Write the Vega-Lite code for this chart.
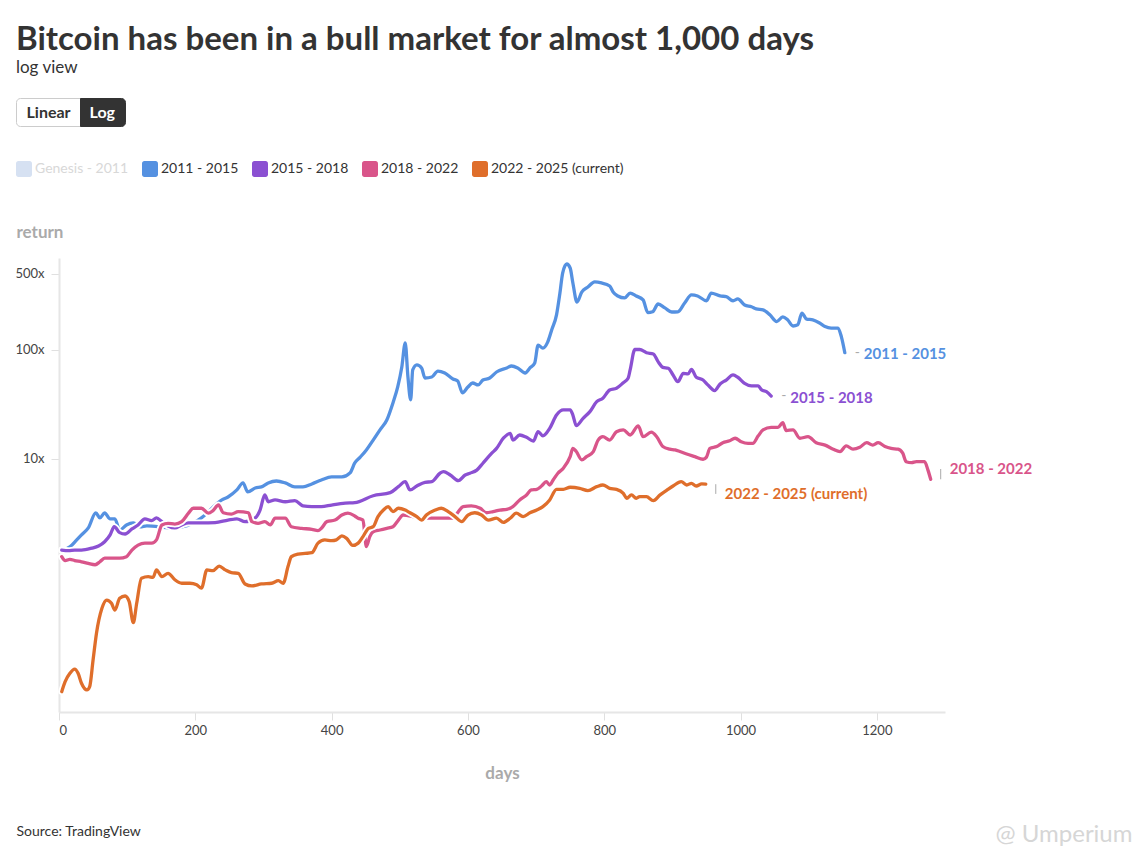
{
  "$schema": "https://vega.github.io/schema/vega-lite/v6.json",
  "autosize": {"type": "none"},
  "width": 886,
  "height": 454,
  "padding": {"left": 59, "top": 258, "right": 194, "bottom": 145},
  "background": "#ffffff",
  "config": {"font": "Lato", "view": {"stroke": null}},
  "title": {
    "text": "Bitcoin has been in a bull market for almost 1,000 days",
    "subtitle": "log view",
    "anchor": "start",
    "frame": "group",
    "dx": -43,
    "offset": 4,
    "font": "Lato",
    "fontSize": 33,
    "fontWeight": "bold",
    "color": "#333333",
    "subtitleFont": "Lato",
    "subtitleFontSize": 17,
    "subtitleColor": "#333333",
    "subtitlePadding": 3
  },
  "datasets": {
    "returns": [
      {"period":"2011 - 2015","day":4,"ret":1.44},{"period":"2011 - 2015","day":16,"ret":1.56},{"period":"2011 - 2015","day":26,"ret":1.81},{"period":"2011 - 2015","day":33,"ret":2.01},{"period":"2011 - 2015","day":43,"ret":2.33},{"period":"2011 - 2015","day":54,"ret":3.2},{"period":"2011 - 2015","day":60,"ret":2.88},{"period":"2011 - 2015","day":67,"ret":3.2},{"period":"2011 - 2015","day":75,"ret":2.82},{"period":"2011 - 2015","day":82,"ret":2.82},{"period":"2011 - 2015","day":89,"ret":2.23},{"period":"2011 - 2015","day":99,"ret":2.48},{"period":"2011 - 2015","day":109,"ret":2.59},{"period":"2011 - 2015","day":119,"ret":2.38},{"period":"2011 - 2015","day":129,"ret":2.43},{"period":"2011 - 2015","day":165,"ret":2.33},{"period":"2011 - 2015","day":180,"ret":2.38},{"period":"2011 - 2015","day":200,"ret":2.64},{"period":"2011 - 2015","day":209,"ret":2.88},{"period":"2011 - 2015","day":239,"ret":4.21},{"period":"2011 - 2015","day":248,"ret":4.48},{"period":"2011 - 2015","day":261,"ret":5.2},{"period":"2011 - 2015","day":270,"ret":6.03},{"period":"2011 - 2015","day":277,"ret":4.98},{"period":"2011 - 2015","day":288,"ret":5.42},{"period":"2011 - 2015","day":297,"ret":5.54},{"period":"2011 - 2015","day":307,"ret":6.03},{"period":"2011 - 2015","day":319,"ret":6.28},{"period":"2011 - 2015","day":332,"ret":6.03},{"period":"2011 - 2015","day":346,"ret":5.54},{"period":"2011 - 2015","day":358,"ret":5.54},{"period":"2011 - 2015","day":371,"ret":5.9},{"period":"2011 - 2015","day":385,"ret":6.41},{"period":"2011 - 2015","day":400,"ret":6.84},{"period":"2011 - 2015","day":415,"ret":6.84},{"period":"2011 - 2015","day":427,"ret":7.45},{"period":"2011 - 2015","day":434,"ret":9.19},{"period":"2011 - 2015","day":442,"ret":10.4},{"period":"2011 - 2015","day":451,"ret":12.1},{"period":"2011 - 2015","day":461,"ret":14.9},{"period":"2011 - 2015","day":471,"ret":18.5},{"period":"2011 - 2015","day":481,"ret":22.8},{"period":"2011 - 2015","day":490,"ret":32.7},{"period":"2011 - 2015","day":497,"ret":45.8},{"period":"2011 - 2015","day":503,"ret":69.8},{"period":"2011 - 2015","day":508,"ret":116},{"period":"2011 - 2015","day":512,"ret":56.5},{"period":"2011 - 2015","day":516,"ret":34.8},{"period":"2011 - 2015","day":519,"ret":65.6},{"period":"2011 - 2015","day":525,"ret":73},{"period":"2011 - 2015","day":532,"ret":68.4},{"period":"2011 - 2015","day":537,"ret":55.3},{"period":"2011 - 2015","day":547,"ret":56.5},{"period":"2011 - 2015","day":556,"ret":64.1},{"period":"2011 - 2015","day":566,"ret":61.5},{"period":"2011 - 2015","day":578,"ret":54.2},{"period":"2011 - 2015","day":585,"ret":52},{"period":"2011 - 2015","day":592,"ret":40.4},{"period":"2011 - 2015","day":600,"ret":45.8},{"period":"2011 - 2015","day":607,"ret":49.8},{"period":"2011 - 2015","day":615,"ret":47.8},{"period":"2011 - 2015","day":622,"ret":53},{"period":"2011 - 2015","day":632,"ret":55.3},{"period":"2011 - 2015","day":642,"ret":62.8},{"period":"2011 - 2015","day":657,"ret":68.4},{"period":"2011 - 2015","day":664,"ret":71.3},{"period":"2011 - 2015","day":673,"ret":68.4},{"period":"2011 - 2015","day":684,"ret":61.5},{"period":"2011 - 2015","day":691,"ret":68.4},{"period":"2011 - 2015","day":698,"ret":76},{"period":"2011 - 2015","day":703,"ret":111},{"period":"2011 - 2015","day":710,"ret":104},{"period":"2011 - 2015","day":717,"ret":118},{"period":"2011 - 2015","day":723,"ret":153},{"period":"2011 - 2015","day":730,"ret":210},{"period":"2011 - 2015","day":735,"ret":333},{"period":"2011 - 2015","day":739,"ret":508},{"period":"2011 - 2015","day":745,"ret":615},{"period":"2011 - 2015","day":750,"ret":565},{"period":"2011 - 2015","day":754,"ret":412},{"period":"2011 - 2015","day":760,"ret":275},{"period":"2011 - 2015","day":767,"ret":340},{"period":"2011 - 2015","day":776,"ret":378},{"period":"2011 - 2015","day":786,"ret":421},{"period":"2011 - 2015","day":796,"ret":412},{"period":"2011 - 2015","day":808,"ret":386},{"period":"2011 - 2015","day":813,"ret":340},{"period":"2011 - 2015","day":820,"ret":313},{"period":"2011 - 2015","day":830,"ret":300},{"period":"2011 - 2015","day":838,"ret":333},{"period":"2011 - 2015","day":847,"ret":313},{"period":"2011 - 2015","day":857,"ret":288},{"period":"2011 - 2015","day":864,"ret":220},{"period":"2011 - 2015","day":871,"ret":224},{"period":"2011 - 2015","day":879,"ret":264},{"period":"2011 - 2015","day":889,"ret":243},{"period":"2011 - 2015","day":899,"ret":223},{"period":"2011 - 2015","day":908,"ret":224},{"period":"2011 - 2015","day":918,"ret":270},{"period":"2011 - 2015","day":928,"ret":320},{"period":"2011 - 2015","day":937,"ret":313},{"period":"2011 - 2015","day":950,"ret":283},{"period":"2011 - 2015","day":957,"ret":333},{"period":"2011 - 2015","day":970,"ret":313},{"period":"2011 - 2015","day":979,"ret":309},{"period":"2011 - 2015","day":989,"ret":283},{"period":"2011 - 2015","day":996,"ret":294},{"period":"2011 - 2015","day":1006,"ret":259},{"period":"2011 - 2015","day":1016,"ret":249},{"period":"2011 - 2015","day":1023,"ret":238},{"period":"2011 - 2015","day":1033,"ret":233},{"period":"2011 - 2015","day":1043,"ret":210},{"period":"2011 - 2015","day":1053,"ret":182},{"period":"2011 - 2015","day":1062,"ret":201},{"period":"2011 - 2015","day":1069,"ret":189},{"period":"2011 - 2015","day":1077,"ret":166},{"period":"2011 - 2015","day":1084,"ret":170},{"period":"2011 - 2015","day":1090,"ret":218},{"period":"2011 - 2015","day":1097,"ret":192},{"period":"2011 - 2015","day":1106,"ret":189},{"period":"2011 - 2015","day":1116,"ret":177},{"period":"2011 - 2015","day":1124,"ret":164},{"period":"2011 - 2015","day":1133,"ret":159},{"period":"2011 - 2015","day":1143,"ret":159},{"period":"2011 - 2015","day":1148,"ret":132},{"period":"2011 - 2015","day":1153,"ret":94.4},
      {"period":"2015 - 2018","day":4,"ret":1.46},{"period":"2015 - 2018","day":14,"ret":1.44},{"period":"2015 - 2018","day":23,"ret":1.46},{"period":"2015 - 2018","day":33,"ret":1.46},{"period":"2015 - 2018","day":48,"ret":1.52},{"period":"2015 - 2018","day":58,"ret":1.59},{"period":"2015 - 2018","day":67,"ret":1.74},{"period":"2015 - 2018","day":75,"ret":2.01},{"period":"2015 - 2018","day":81,"ret":2.39},{"period":"2015 - 2018","day":89,"ret":2.11},{"period":"2015 - 2018","day":97,"ret":2.05},{"period":"2015 - 2018","day":107,"ret":2.28},{"period":"2015 - 2018","day":116,"ret":2.48},{"period":"2015 - 2018","day":126,"ret":2.82},{"period":"2015 - 2018","day":136,"ret":2.72},{"period":"2015 - 2018","day":143,"ret":2.88},{"period":"2015 - 2018","day":151,"ret":2.66},{"period":"2015 - 2018","day":160,"ret":2.43},{"period":"2015 - 2018","day":170,"ret":2.33},{"period":"2015 - 2018","day":180,"ret":2.48},{"period":"2015 - 2018","day":190,"ret":2.59},{"period":"2015 - 2018","day":209,"ret":2.59},{"period":"2015 - 2018","day":229,"ret":2.61},{"period":"2015 - 2018","day":248,"ret":2.75},{"period":"2015 - 2018","day":261,"ret":2.82},{"period":"2015 - 2018","day":273,"ret":2.66},{"period":"2015 - 2018","day":288,"ret":2.88},{"period":"2015 - 2018","day":295,"ret":3.4},{"period":"2015 - 2018","day":302,"ret":4.68},{"period":"2015 - 2018","day":307,"ret":4.05},{"period":"2015 - 2018","day":317,"ret":4.21},{"period":"2015 - 2018","day":332,"ret":4.05},{"period":"2015 - 2018","day":346,"ret":4.14},{"period":"2015 - 2018","day":358,"ret":3.71},{"period":"2015 - 2018","day":371,"ret":3.65},{"period":"2015 - 2018","day":385,"ret":3.65},{"period":"2015 - 2018","day":400,"ret":3.78},{"period":"2015 - 2018","day":420,"ret":3.93},{"period":"2015 - 2018","day":434,"ret":3.97},{"period":"2015 - 2018","day":461,"ret":4.6},{"period":"2015 - 2018","day":486,"ret":4.91},{"period":"2015 - 2018","day":498,"ret":5.57},{"period":"2015 - 2018","day":508,"ret":6.19},{"period":"2015 - 2018","day":515,"ret":5.2},{"period":"2015 - 2018","day":525,"ret":5.65},{"period":"2015 - 2018","day":537,"ret":6.11},{"period":"2015 - 2018","day":547,"ret":6.19},{"period":"2015 - 2018","day":559,"ret":7.4},{"period":"2015 - 2018","day":564,"ret":7.64},{"period":"2015 - 2018","day":574,"ret":7.13},{"period":"2015 - 2018","day":586,"ret":6.32},{"period":"2015 - 2018","day":596,"ret":7.13},{"period":"2015 - 2018","day":603,"ret":7.4},{"period":"2015 - 2018","day":613,"ret":7.9},{"period":"2015 - 2018","day":622,"ret":9.14},{"period":"2015 - 2018","day":635,"ret":11.3},{"period":"2015 - 2018","day":642,"ret":12.5},{"period":"2015 - 2018","day":652,"ret":15.5},{"period":"2015 - 2018","day":662,"ret":17.2},{"period":"2015 - 2018","day":666,"ret":14.9},{"period":"2015 - 2018","day":676,"ret":16.6},{"period":"2015 - 2018","day":686,"ret":15.8},{"period":"2015 - 2018","day":696,"ret":14.6},{"period":"2015 - 2018","day":703,"ret":17.8},{"period":"2015 - 2018","day":710,"ret":16.3},{"period":"2015 - 2018","day":720,"ret":19.1},{"period":"2015 - 2018","day":730,"ret":25.3},{"period":"2015 - 2018","day":740,"ret":28.2},{"period":"2015 - 2018","day":750,"ret":28.2},{"period":"2015 - 2018","day":754,"ret":25.3},{"period":"2015 - 2018","day":759,"ret":20.2},{"period":"2015 - 2018","day":769,"ret":23.6},{"period":"2015 - 2018","day":779,"ret":27.2},{"period":"2015 - 2018","day":789,"ret":33.6},{"period":"2015 - 2018","day":798,"ret":36.1},{"period":"2015 - 2018","day":808,"ret":43},{"period":"2015 - 2018","day":818,"ret":44.6},{"period":"2015 - 2018","day":828,"ret":50.1},{"period":"2015 - 2018","day":835,"ret":55},{"period":"2015 - 2018","day":838,"ret":65.6},{"period":"2015 - 2018","day":845,"ret":101},{"period":"2015 - 2018","day":852,"ret":101},{"period":"2015 - 2018","day":862,"ret":94.4},{"period":"2015 - 2018","day":872,"ret":91.9},{"period":"2015 - 2018","day":879,"ret":78.2},{"period":"2015 - 2018","day":886,"ret":69.3},{"period":"2015 - 2018","day":894,"ret":67.9},{"period":"2015 - 2018","day":901,"ret":59},{"period":"2015 - 2018","day":908,"ret":51.2},{"period":"2015 - 2018","day":916,"ret":61.1},{"period":"2015 - 2018","day":923,"ret":60.3},{"period":"2015 - 2018","day":928,"ret":66.5},{"period":"2015 - 2018","day":935,"ret":56.2},{"period":"2015 - 2018","day":945,"ret":53},{"period":"2015 - 2018","day":952,"ret":47.8},{"period":"2015 - 2018","day":962,"ret":42.4},{"period":"2015 - 2018","day":970,"ret":48.8},{"period":"2015 - 2018","day":979,"ret":53},{"period":"2015 - 2018","day":989,"ret":59},{"period":"2015 - 2018","day":996,"ret":56.2},{"period":"2015 - 2018","day":1006,"ret":49.4},{"period":"2015 - 2018","day":1016,"ret":46.8},{"period":"2015 - 2018","day":1026,"ret":46.8},{"period":"2015 - 2018","day":1031,"ret":43},{"period":"2015 - 2018","day":1038,"ret":41.4},{"period":"2015 - 2018","day":1045,"ret":37.8},
      {"period":"2018 - 2022","day":4,"ret":1.27},{"period":"2018 - 2022","day":9,"ret":1.17},{"period":"2018 - 2022","day":16,"ret":1.2},{"period":"2018 - 2022","day":23,"ret":1.17},{"period":"2018 - 2022","day":33,"ret":1.14},{"period":"2018 - 2022","day":43,"ret":1.1},{"period":"2018 - 2022","day":53,"ret":1.07},{"period":"2018 - 2022","day":60,"ret":1.14},{"period":"2018 - 2022","day":67,"ret":1.23},{"period":"2018 - 2022","day":77,"ret":1.23},{"period":"2018 - 2022","day":89,"ret":1.23},{"period":"2018 - 2022","day":99,"ret":1.27},{"period":"2018 - 2022","day":107,"ret":1.46},{"period":"2018 - 2022","day":116,"ret":1.62},{"period":"2018 - 2022","day":126,"ret":1.69},{"period":"2018 - 2022","day":136,"ret":1.69},{"period":"2018 - 2022","day":143,"ret":1.81},{"period":"2018 - 2022","day":151,"ret":2.48},{"period":"2018 - 2022","day":160,"ret":2.57},{"period":"2018 - 2022","day":170,"ret":2.53},{"period":"2018 - 2022","day":180,"ret":2.66},{"period":"2018 - 2022","day":190,"ret":3.18},{"period":"2018 - 2022","day":197,"ret":3.53},{"period":"2018 - 2022","day":209,"ret":3.53},{"period":"2018 - 2022","day":219,"ret":3.18},{"period":"2018 - 2022","day":226,"ret":3.36},{"period":"2018 - 2022","day":234,"ret":3.78},{"period":"2018 - 2022","day":241,"ret":3.21},{"period":"2018 - 2022","day":253,"ret":3.12},{"period":"2018 - 2022","day":263,"ret":3.29},{"period":"2018 - 2022","day":278,"ret":3.21},{"period":"2018 - 2022","day":283,"ret":2.66},{"period":"2018 - 2022","day":292,"ret":2.57},{"period":"2018 - 2022","day":302,"ret":2.66},{"period":"2018 - 2022","day":310,"ret":2.48},{"period":"2018 - 2022","day":317,"ret":2.86},{"period":"2018 - 2022","day":332,"ret":2.86},{"period":"2018 - 2022","day":341,"ret":2.39},{"period":"2018 - 2022","day":356,"ret":2.31},{"period":"2018 - 2022","day":371,"ret":2.26},{"period":"2018 - 2022","day":380,"ret":2.2},{"period":"2018 - 2022","day":385,"ret":2.31},{"period":"2018 - 2022","day":393,"ret":2.66},{"period":"2018 - 2022","day":405,"ret":2.75},{"period":"2018 - 2022","day":415,"ret":3.06},{"period":"2018 - 2022","day":424,"ret":3.18},{"period":"2018 - 2022","day":434,"ret":3.0},{"period":"2018 - 2022","day":439,"ret":2.86},{"period":"2018 - 2022","day":446,"ret":2.75},{"period":"2018 - 2022","day":451,"ret":1.57},{"period":"2018 - 2022","day":456,"ret":1.94},{"period":"2018 - 2022","day":461,"ret":2.15},{"period":"2018 - 2022","day":471,"ret":2.23},{"period":"2018 - 2022","day":481,"ret":2.31},{"period":"2018 - 2022","day":490,"ret":2.39},{"period":"2018 - 2022","day":498,"ret":2.75},{"period":"2018 - 2022","day":505,"ret":3.06},{"period":"2018 - 2022","day":522,"ret":2.95},{"period":"2018 - 2022","day":539,"ret":2.86},{"period":"2018 - 2022","day":559,"ret":2.86},{"period":"2018 - 2022","day":578,"ret":2.86},{"period":"2018 - 2022","day":586,"ret":3.29},{"period":"2018 - 2022","day":593,"ret":3.65},{"period":"2018 - 2022","day":605,"ret":3.71},{"period":"2018 - 2022","day":618,"ret":3.53},{"period":"2018 - 2022","day":627,"ret":3.21},{"period":"2018 - 2022","day":637,"ret":3.29},{"period":"2018 - 2022","day":647,"ret":3.4},{"period":"2018 - 2022","day":657,"ret":3.45},{"period":"2018 - 2022","day":666,"ret":3.65},{"period":"2018 - 2022","day":676,"ret":4.21},{"period":"2018 - 2022","day":686,"ret":4.68},{"period":"2018 - 2022","day":693,"ret":5.2},{"period":"2018 - 2022","day":701,"ret":5.27},{"period":"2018 - 2022","day":708,"ret":5.65},{"period":"2018 - 2022","day":715,"ret":6.19},{"period":"2018 - 2022","day":720,"ret":5.77},{"period":"2018 - 2022","day":725,"ret":6.41},{"period":"2018 - 2022","day":732,"ret":7.4},{"period":"2018 - 2022","day":740,"ret":8.22},{"period":"2018 - 2022","day":750,"ret":10.5},{"period":"2018 - 2022","day":754,"ret":12.5},{"period":"2018 - 2022","day":759,"ret":11.7},{"period":"2018 - 2022","day":767,"ret":9.8},{"period":"2018 - 2022","day":774,"ret":10.5},{"period":"2018 - 2022","day":784,"ret":11.7},{"period":"2018 - 2022","day":791,"ret":14.9},{"period":"2018 - 2022","day":798,"ret":16.0},{"period":"2018 - 2022","day":808,"ret":14.9},{"period":"2018 - 2022","day":818,"ret":17.8},{"period":"2018 - 2022","day":828,"ret":18.5},{"period":"2018 - 2022","day":838,"ret":16.6},{"period":"2018 - 2022","day":850,"ret":20.1},{"period":"2018 - 2022","day":857,"ret":16.0},{"period":"2018 - 2022","day":869,"ret":17.6},{"period":"2018 - 2022","day":877,"ret":16.0},{"period":"2018 - 2022","day":886,"ret":13.0},{"period":"2018 - 2022","day":896,"ret":12.3},{"period":"2018 - 2022","day":904,"ret":12.1},{"period":"2018 - 2022","day":911,"ret":11.7},{"period":"2018 - 2022","day":921,"ret":11.1},{"period":"2018 - 2022","day":933,"ret":10.5},{"period":"2018 - 2022","day":945,"ret":9.94},{"period":"2018 - 2022","day":950,"ret":10.4},{"period":"2018 - 2022","day":955,"ret":12.5},{"period":"2018 - 2022","day":965,"ret":13.0},{"period":"2018 - 2022","day":974,"ret":14.1},{"period":"2018 - 2022","day":984,"ret":14.7},{"period":"2018 - 2022","day":992,"ret":15.5},{"period":"2018 - 2022","day":1001,"ret":14.4},{"period":"2018 - 2022","day":1011,"ret":13.9},{"period":"2018 - 2022","day":1018,"ret":13.9},{"period":"2018 - 2022","day":1026,"ret":16.3},{"period":"2018 - 2022","day":1033,"ret":18.5},{"period":"2018 - 2022","day":1045,"ret":19.5},{"period":"2018 - 2022","day":1055,"ret":19.5},{"period":"2018 - 2022","day":1062,"ret":21.5},{"period":"2018 - 2022","day":1067,"ret":18.2},{"period":"2018 - 2022","day":1077,"ret":18.5},{"period":"2018 - 2022","day":1087,"ret":15.5},{"period":"2018 - 2022","day":1099,"ret":16.0},{"period":"2018 - 2022","day":1111,"ret":14.1},{"period":"2018 - 2022","day":1124,"ret":13.4},{"period":"2018 - 2022","day":1136,"ret":12.3},{"period":"2018 - 2022","day":1146,"ret":11.7},{"period":"2018 - 2022","day":1155,"ret":13.2},{"period":"2018 - 2022","day":1165,"ret":12.3},{"period":"2018 - 2022","day":1175,"ret":12.8},{"period":"2018 - 2022","day":1185,"ret":14.1},{"period":"2018 - 2022","day":1194,"ret":13.4},{"period":"2018 - 2022","day":1202,"ret":14.1},{"period":"2018 - 2022","day":1212,"ret":13.0},{"period":"2018 - 2022","day":1221,"ret":12.5},{"period":"2018 - 2022","day":1231,"ret":12.3},{"period":"2018 - 2022","day":1238,"ret":11.3},{"period":"2018 - 2022","day":1243,"ret":9.44},{"period":"2018 - 2022","day":1251,"ret":9.25},{"period":"2018 - 2022","day":1258,"ret":9.44},{"period":"2018 - 2022","day":1266,"ret":9.44},{"period":"2018 - 2022","day":1270,"ret":9.44},{"period":"2018 - 2022","day":1275,"ret":7.9},{"period":"2018 - 2022","day":1279,"ret":6.51},
      {"period":"2022 - 2025 (current)","day":4,"ret":0.0733},{"period":"2022 - 2025 (current)","day":9,"ret":0.0906},{"period":"2022 - 2025 (current)","day":16,"ret":0.108},{"period":"2022 - 2025 (current)","day":23,"ret":0.118},{"period":"2022 - 2025 (current)","day":28,"ret":0.108},{"period":"2022 - 2025 (current)","day":33,"ret":0.0875},{"period":"2022 - 2025 (current)","day":41,"ret":0.076},{"period":"2022 - 2025 (current)","day":45,"ret":0.0815},{"period":"2022 - 2025 (current)","day":50,"ret":0.143},{"period":"2022 - 2025 (current)","day":55,"ret":0.252},{"period":"2022 - 2025 (current)","day":63,"ret":0.427},{"period":"2022 - 2025 (current)","day":70,"ret":0.508},{"period":"2022 - 2025 (current)","day":77,"ret":0.474},{"period":"2022 - 2025 (current)","day":82,"ret":0.41},{"period":"2022 - 2025 (current)","day":89,"ret":0.527},{"period":"2022 - 2025 (current)","day":97,"ret":0.553},{"period":"2022 - 2025 (current)","day":103,"ret":0.491},{"period":"2022 - 2025 (current)","day":109,"ret":0.315},{"period":"2022 - 2025 (current)","day":114,"ret":0.474},{"period":"2022 - 2025 (current)","day":121,"ret":0.805},{"period":"2022 - 2025 (current)","day":131,"ret":0.832},{"period":"2022 - 2025 (current)","day":138,"ret":0.82},{"period":"2022 - 2025 (current)","day":143,"ret":0.96},{"period":"2022 - 2025 (current)","day":151,"ret":0.832},{"period":"2022 - 2025 (current)","day":160,"ret":0.893},{"period":"2022 - 2025 (current)","day":170,"ret":0.78},{"period":"2022 - 2025 (current)","day":180,"ret":0.724},{"period":"2022 - 2025 (current)","day":192,"ret":0.724},{"period":"2022 - 2025 (current)","day":202,"ret":0.7},{"period":"2022 - 2025 (current)","day":209,"ret":0.652},{"period":"2022 - 2025 (current)","day":217,"ret":0.96},{"period":"2022 - 2025 (current)","day":226,"ret":0.945},{"period":"2022 - 2025 (current)","day":235,"ret":1.04},{"period":"2022 - 2025 (current)","day":244,"ret":0.96},{"period":"2022 - 2025 (current)","day":253,"ret":0.905},{"period":"2022 - 2025 (current)","day":263,"ret":0.893},{"period":"2022 - 2025 (current)","day":273,"ret":0.713},{"period":"2022 - 2025 (current)","day":283,"ret":0.684},{"period":"2022 - 2025 (current)","day":297,"ret":0.713},{"period":"2022 - 2025 (current)","day":312,"ret":0.724},{"period":"2022 - 2025 (current)","day":322,"ret":0.764},{"period":"2022 - 2025 (current)","day":329,"ret":0.724},{"period":"2022 - 2025 (current)","day":336,"ret":1.03},{"period":"2022 - 2025 (current)","day":341,"ret":1.27},{"period":"2022 - 2025 (current)","day":351,"ret":1.34},{"period":"2022 - 2025 (current)","day":361,"ret":1.36},{"period":"2022 - 2025 (current)","day":371,"ret":1.38},{"period":"2022 - 2025 (current)","day":380,"ret":1.69},{"period":"2022 - 2025 (current)","day":390,"ret":1.81},{"period":"2022 - 2025 (current)","day":400,"ret":1.78},{"period":"2022 - 2025 (current)","day":407,"ret":1.81},{"period":"2022 - 2025 (current)","day":415,"ret":1.97},{"period":"2022 - 2025 (current)","day":422,"ret":1.87},{"period":"2022 - 2025 (current)","day":431,"ret":1.61},{"period":"2022 - 2025 (current)","day":439,"ret":1.69},{"period":"2022 - 2025 (current)","day":446,"ret":1.94},{"period":"2022 - 2025 (current)","day":454,"ret":2.31},{"period":"2022 - 2025 (current)","day":461,"ret":2.39},{"period":"2022 - 2025 (current)","day":468,"ret":2.96},{"period":"2022 - 2025 (current)","day":476,"ret":3.4},{"period":"2022 - 2025 (current)","day":483,"ret":3.65},{"period":"2022 - 2025 (current)","day":490,"ret":3.29},{"period":"2022 - 2025 (current)","day":498,"ret":3.53},{"period":"2022 - 2025 (current)","day":508,"ret":3.4},{"period":"2022 - 2025 (current)","day":515,"ret":3.21},{"period":"2022 - 2025 (current)","day":525,"ret":2.96},{"period":"2022 - 2025 (current)","day":532,"ret":2.75},{"period":"2022 - 2025 (current)","day":539,"ret":3.06},{"period":"2022 - 2025 (current)","day":552,"ret":3.4},{"period":"2022 - 2025 (current)","day":561,"ret":3.53},{"period":"2022 - 2025 (current)","day":571,"ret":3.29},{"period":"2022 - 2025 (current)","day":581,"ret":2.96},{"period":"2022 - 2025 (current)","day":591,"ret":2.66},{"period":"2022 - 2025 (current)","day":600,"ret":3.06},{"period":"2022 - 2025 (current)","day":610,"ret":3.21},{"period":"2022 - 2025 (current)","day":620,"ret":3.06},{"period":"2022 - 2025 (current)","day":630,"ret":2.75},{"period":"2022 - 2025 (current)","day":642,"ret":2.86},{"period":"2022 - 2025 (current)","day":652,"ret":2.62},{"period":"2022 - 2025 (current)","day":662,"ret":2.86},{"period":"2022 - 2025 (current)","day":671,"ret":3.18},{"period":"2022 - 2025 (current)","day":681,"ret":2.96},{"period":"2022 - 2025 (current)","day":691,"ret":3.21},{"period":"2022 - 2025 (current)","day":701,"ret":3.4},{"period":"2022 - 2025 (current)","day":710,"ret":3.65},{"period":"2022 - 2025 (current)","day":720,"ret":4.21},{"period":"2022 - 2025 (current)","day":730,"ret":5.27},{"period":"2022 - 2025 (current)","day":740,"ret":5.27},{"period":"2022 - 2025 (current)","day":750,"ret":5.5},{"period":"2022 - 2025 (current)","day":764,"ret":5.38},{"period":"2022 - 2025 (current)","day":776,"ret":5.12},{"period":"2022 - 2025 (current)","day":789,"ret":5.57},{"period":"2022 - 2025 (current)","day":798,"ret":5.77},{"period":"2022 - 2025 (current)","day":808,"ret":5.38},{"period":"2022 - 2025 (current)","day":818,"ret":5.27},{"period":"2022 - 2025 (current)","day":828,"ret":4.84},{"period":"2022 - 2025 (current)","day":833,"ret":4.36},{"period":"2022 - 2025 (current)","day":840,"ret":4.68},{"period":"2022 - 2025 (current)","day":847,"ret":4.36},{"period":"2022 - 2025 (current)","day":852,"ret":4.51},{"period":"2022 - 2025 (current)","day":862,"ret":4.51},{"period":"2022 - 2025 (current)","day":872,"ret":4.14},{"period":"2022 - 2025 (current)","day":882,"ret":4.68},{"period":"2022 - 2025 (current)","day":891,"ret":5.12},{"period":"2022 - 2025 (current)","day":901,"ret":5.65},{"period":"2022 - 2025 (current)","day":913,"ret":6.19},{"period":"2022 - 2025 (current)","day":921,"ret":5.77},{"period":"2022 - 2025 (current)","day":928,"ret":5.98},{"period":"2022 - 2025 (current)","day":935,"ret":5.65},{"period":"2022 - 2025 (current)","day":943,"ret":5.9},{"period":"2022 - 2025 (current)","day":949,"ret":5.87}
    ],
    "labels": [
      {"period":"2011 - 2015","day":1153,"end":94.4,"label_ret":91.9},
      {"period":"2015 - 2018","day":1045,"end":37.8,"label_ret":36.3},
      {"period":"2018 - 2022","day":1279,"end":6.51,"label_ret":8.09},
      {"period":"2022 - 2025 (current)","day":949,"end":5.87,"label_ret":4.78}
    ],
    "mode_linear": [{"mode":"Linear"}],
    "mode_log": [{"mode":"Log"}]
  },
  "layer": [
    {
      "data": {"name": "mode_linear"},
      "mark": {"type": "point", "opacity": 0, "filled": true},
      "encoding": {
        "shape": {
          "field": "mode", "type": "nominal",
          "scale": {"domain": ["Linear"], "range": ["M-0.875,-0.4375H1V0.4375H-0.875A0.125,0.125 0 0 1 -1,0.3125V-0.3125A0.125,0.125 0 0 1 -0.875,-0.4375Z"]},
          "legend": {
            "title": null, "orient": "none", "legendX": -43, "legendY": -178, "direction": "horizontal",
            "symbolSize": 4096, "labelOffset": -54.5, "padding": 0, "symbolStrokeWidth": 1, "symbolOpacity": 1,
            "labelFont": "Lato", "labelFontSize": 16, "labelFontWeight": "bold", "labelColor": "#333333"
          }
        },
        "fill": {"field": "mode", "type": "nominal", "scale": {"domain": ["Linear"], "range": ["#ffffff"]}},
        "stroke": {"field": "mode", "type": "nominal", "scale": {"domain": ["Linear"], "range": ["#cccccc"]}}
      }
    },
    {
      "data": {"name": "mode_log"},
      "mark": {"type": "point", "opacity": 0, "filled": true},
      "encoding": {
        "shape": {
          "field": "mode", "type": "nominal",
          "scale": {"domain": ["Log"], "range": ["M-1,-0.4375H0.281A0.125,0.125 0 0 1 0.406,-0.3125V0.3125A0.125,0.125 0 0 1 0.281,0.4375H-1Z"]},
          "legend": {
            "title": null, "orient": "none", "legendX": 21, "legendY": -178, "direction": "horizontal",
            "symbolSize": 4096, "labelOffset": -55.5, "padding": 0, "symbolStrokeWidth": 1, "symbolOpacity": 1,
            "labelFont": "Lato", "labelFontSize": 16, "labelFontWeight": "bold", "labelColor": "#ffffff"
          }
        },
        "fill": {"field": "mode", "type": "nominal", "scale": {"domain": ["Log"], "range": ["#333333"]}},
        "stroke": {"field": "mode", "type": "nominal", "scale": {"domain": ["Log"], "range": ["#333333"]}}
      }
    },
    {
      "data": {"name": "returns"},
      "transform": [{"filter": "datum.period === '2011 - 2015'"}],
      "mark": {"type": "line", "strokeWidth": 3.3, "interpolate": "monotone", "strokeCap": "round", "strokeJoin": "round"},
      "encoding": {
        "x": {
          "field": "day", "type": "quantitative",
          "scale": {"domain": [0, 1300], "nice": false, "zero": false},
          "axis": {
            "title": "days", "values": [0, 200, 400, 600, 800, 1000, 1200], "format": "d", "grid": false,
            "domainColor": "#e6e6e6", "domainWidth": 2, "tickColor": "#e0e0e0", "tickSize": 8,
            "labelColor": "#444444", "labelFontSize": 13, "labelPadding": 4, "labelFont": "Lato",
            "titleFont": "Lato", "titleFontSize": 17, "titleFontWeight": "bold", "titleColor": "#aaaaaa",
            "titleY": 66, "titleBaseline": "alphabetic"
          }
        },
        "y": {
          "field": "ret", "type": "quantitative",
          "scale": {"type": "log", "domain": [0.0477, 698], "nice": false},
          "axis": {
            "title": "return", "values": [10, 100, 500], "labelExpr": "datum.value + 'x'", "grid": false,
            "domainColor": "#e6e6e6", "domainWidth": 2, "tickColor": "#e0e0e0", "tickSize": 8,
            "labelColor": "#444444", "labelFontSize": 13, "labelPadding": 7, "labelFont": "Lato",
            "titleFont": "Lato", "titleFontSize": 17, "titleFontWeight": "bold", "titleColor": "#aaaaaa",
            "titleAngle": 0, "titleAlign": "left", "titleX": -43, "titleY": -21, "titleBaseline": "alphabetic"
          }
        },
        "color": {
          "field": "period", "type": "nominal",
          "scale": {
            "domain": ["Genesis - 2011", "2011 - 2015", "2015 - 2018", "2018 - 2022", "2022 - 2025 (current)"],
            "range": ["#d6e1f2", "#5591e1", "#8b50d2", "#d9558a", "#df6e2b"]
          },
          "legend": {
            "title": null, "orient": "none", "legendX": -43, "legendY": -97, "direction": "horizontal", "columns": 5,
            "symbolType": "M-0.7,-1H0.7A0.3,0.3 0 0 1 1,-0.7V0.7A0.3,0.3 0 0 1 0.7,1H-0.7A0.3,0.3 0 0 1 -1,0.7V-0.7A0.3,0.3 0 0 1 -0.7,-1Z",
            "symbolSize": 256, "symbolStrokeWidth": 0, "labelFont": "Lato", "labelFontSize": 14, "labelColor": "#333333",
            "labelOffset": 3, "columnPadding": 13, "padding": 0,
            "encode": {
              "symbols": {"update": {"fill": {"scale": "color", "field": "value"}, "stroke": {"value": "transparent"}, "opacity": {"value": 1}}},
              "labels": {"update": {"fill": {"signal": "datum.value === 'Genesis - 2011' ? '#d8d8d8' : '#333333'"}}}
            }
          }
        }
      }
    },
    {
      "data": {"name": "returns"},
      "transform": [{"filter": "datum.period === '2015 - 2018'"}],
      "mark": {"type": "line", "strokeWidth": 7, "color": "#ffffff", "interpolate": "monotone", "strokeCap": "round", "strokeJoin": "round"},
      "encoding": {
        "x": {"field": "day", "type": "quantitative", "scale": {"domain": [0, 1300], "nice": false, "zero": false}, "axis": null},
        "y": {"field": "ret", "type": "quantitative", "scale": {"type": "log", "domain": [0.0477, 698], "nice": false}, "axis": null}
      }
    },
    {
      "data": {"name": "returns"},
      "transform": [{"filter": "datum.period === '2015 - 2018'"}],
      "mark": {"type": "line", "strokeWidth": 3.3, "interpolate": "monotone", "strokeCap": "round", "strokeJoin": "round"},
      "encoding": {
        "x": {"field": "day", "type": "quantitative", "scale": {"domain": [0, 1300], "nice": false, "zero": false}, "axis": null},
        "y": {"field": "ret", "type": "quantitative", "scale": {"type": "log", "domain": [0.0477, 698], "nice": false}, "axis": null},
        "color": {"field": "period", "type": "nominal", "legend": null}
      }
    },
    {
      "data": {"name": "returns"},
      "transform": [{"filter": "datum.period === '2018 - 2022'"}],
      "mark": {"type": "line", "strokeWidth": 7, "color": "#ffffff", "interpolate": "monotone", "strokeCap": "round", "strokeJoin": "round"},
      "encoding": {
        "x": {"field": "day", "type": "quantitative", "scale": {"domain": [0, 1300], "nice": false, "zero": false}, "axis": null},
        "y": {"field": "ret", "type": "quantitative", "scale": {"type": "log", "domain": [0.0477, 698], "nice": false}, "axis": null}
      }
    },
    {
      "data": {"name": "returns"},
      "transform": [{"filter": "datum.period === '2018 - 2022'"}],
      "mark": {"type": "line", "strokeWidth": 3.3, "interpolate": "monotone", "strokeCap": "round", "strokeJoin": "round"},
      "encoding": {
        "x": {"field": "day", "type": "quantitative", "scale": {"domain": [0, 1300], "nice": false, "zero": false}, "axis": null},
        "y": {"field": "ret", "type": "quantitative", "scale": {"type": "log", "domain": [0.0477, 698], "nice": false}, "axis": null},
        "color": {"field": "period", "type": "nominal", "legend": null}
      }
    },
    {
      "data": {"name": "returns"},
      "transform": [{"filter": "datum.period === '2022 - 2025 (current)'"}],
      "mark": {"type": "line", "strokeWidth": 7, "color": "#ffffff", "interpolate": "monotone", "strokeCap": "round", "strokeJoin": "round"},
      "encoding": {
        "x": {"field": "day", "type": "quantitative", "scale": {"domain": [0, 1300], "nice": false, "zero": false}, "axis": null},
        "y": {"field": "ret", "type": "quantitative", "scale": {"type": "log", "domain": [0.0477, 698], "nice": false}, "axis": null}
      }
    },
    {
      "data": {"name": "returns"},
      "transform": [{"filter": "datum.period === '2022 - 2025 (current)'"}],
      "mark": {"type": "line", "strokeWidth": 3.3, "interpolate": "monotone", "strokeCap": "round", "strokeJoin": "round"},
      "encoding": {
        "x": {"field": "day", "type": "quantitative", "scale": {"domain": [0, 1300], "nice": false, "zero": false}, "axis": null},
        "y": {"field": "ret", "type": "quantitative", "scale": {"type": "log", "domain": [0.0477, 698], "nice": false}, "axis": null},
        "color": {"field": "period", "type": "nominal", "legend": null}
      }
    },
    {
      "data": {"name": "labels"},
      "transform": [{"filter": "datum.period === '2011 - 2015' || datum.period === '2015 - 2018'"}],
      "mark": {"type": "text", "text": "-", "dx": 10, "align": "left", "baseline": "middle", "fontSize": 14, "color": "#aaaaaa", "font": "Lato"},
      "encoding": {
        "x": {"field": "day", "type": "quantitative", "axis": null},
        "y": {"field": "end", "type": "quantitative", "axis": null}
      }
    },
    {
      "data": {"name": "labels"},
      "transform": [{"filter": "datum.period === '2018 - 2022' || datum.period === '2022 - 2025 (current)'"}],
      "mark": {"type": "rule", "xOffset": 10, "color": "#aaaaaa", "strokeWidth": 1},
      "encoding": {
        "x": {"field": "day", "type": "quantitative", "axis": null},
        "y": {"field": "end", "type": "quantitative", "axis": null},
        "y2": {"field": "label_ret"}
      }
    },
    {
      "data": {"name": "labels"},
      "mark": {"type": "text", "dx": 19, "align": "left", "baseline": "middle", "fontSize": 15, "fontWeight": "bold", "font": "Lato"},
      "encoding": {
        "x": {
          "field": "day", "type": "quantitative",
          "axis": {
            "orient": "bottom", "title": "Source: TradingView", "labels": false, "ticks": false, "domain": false, "grid": false,
            "titleX": -43, "titleY": 123, "titleAlign": "left", "titleAnchor": "start", "titleBaseline": "alphabetic",
            "titleFont": "Lato", "titleFontSize": 14, "titleFontWeight": "normal", "titleColor": "#333333"
          }
        },
        "y": {
          "field": "label_ret", "type": "quantitative",
          "axis": {
            "orient": "right", "title": "@ Umperium", "labels": false, "ticks": false, "domain": false, "grid": false,
            "titleAngle": 0, "titleX": 50, "titleY": 583, "titleAlign": "left", "titleBaseline": "alphabetic",
            "titleFont": "Lato", "titleFontSize": 24, "titleFontWeight": "normal", "titleColor": "#d6d6d6"
          }
        },
        "text": {"field": "period", "type": "nominal"},
        "color": {"field": "period", "type": "nominal", "legend": null}
      }
    }
  ],
  "resolve": {
    "axis": {"x": "independent", "y": "independent"},
    "scale": {"shape": "independent", "fill": "independent", "stroke": "independent"},
    "legend": {"shape": "independent", "fill": "independent", "stroke": "independent"}
  }
}
